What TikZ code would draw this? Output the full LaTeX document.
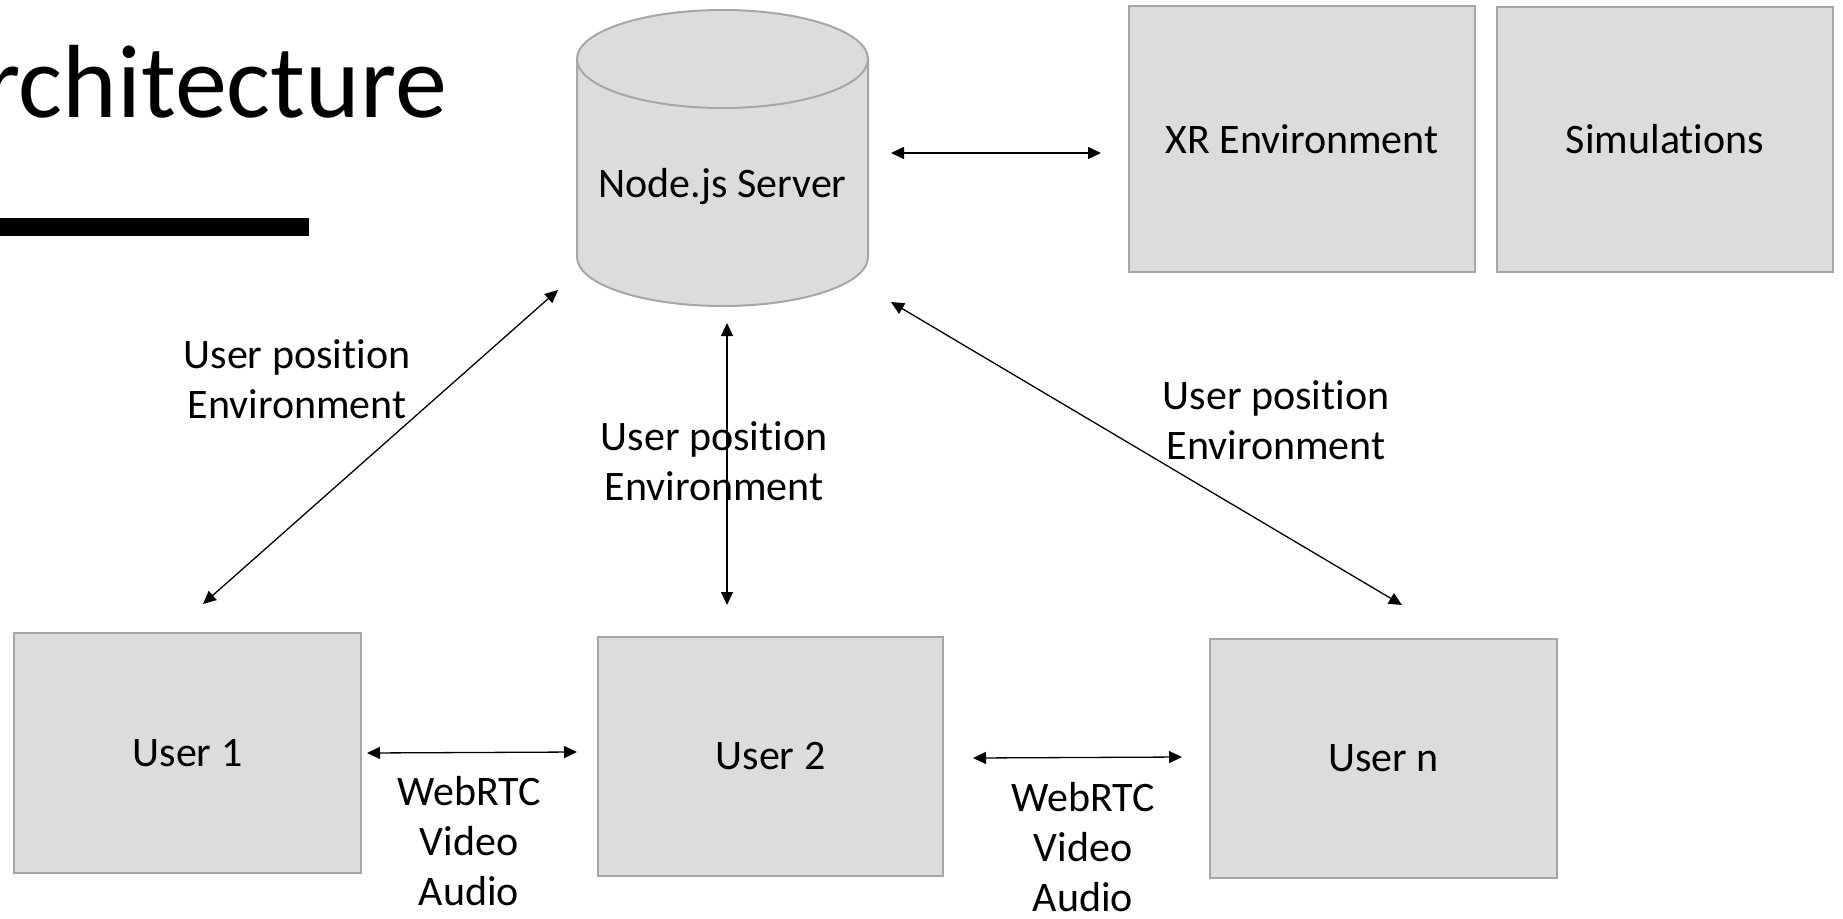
\documentclass[tikz,border=0pt]{standalone}
\usepackage{fontspec}
\setmainfont{Carlito}[Ligatures=NoCommon]
\usetikzlibrary{arrows.meta}
\definecolor{boxfill}{RGB}{220,220,220}
\definecolor{boxline}{RGB}{166,166,166}
\newcommand{\stk}[1]{\vtop{\halign{\hfil##\hfil\cr#1\crcr}}}
\begin{document}
\begin{tikzpicture}[x=1pt,y=1pt,
  body/.style={font=\fontsize{42}{50}\selectfont},
  box/.style={draw=boxline, fill=boxfill, line width=2pt, inner sep=0pt, body},
  arr/.style={<->, >={Triangle[length=13pt,width=12pt]}, line width=1.3pt},
  lab/.style={body, inner sep=0pt, anchor=base}]
\useasboundingbox (0,0) rectangle (1843,-918);
\clip (0,0) rectangle (1843,-918);
% title
\node[anchor=base east, inner sep=0pt, font=\fontsize{104}{124}\selectfont] (title) at (447,-117) {Architecture};
\fill[black] (0,-218) rectangle (309,-236);
% cylinder
\fill[boxfill] (577,-59) -- (577,-257) arc[start angle=180,end angle=360,x radius=145.5pt,y radius=49pt] -- (868,-59) arc[start angle=0,end angle=180,x radius=145.5pt,y radius=49pt] -- cycle;
\draw[boxline, line width=2pt] (577,-59) -- (577,-257) arc[start angle=180,end angle=360,x radius=145.5pt,y radius=49pt] -- (868,-59);
\draw[boxline, line width=2pt] (722.5,-59) ellipse [x radius=145.5pt, y radius=49pt];
\node[body, anchor=base, inner sep=0pt] (server) at (722.5,-197) {Node.js Server};
% boxes
\node[box, minimum width=346pt, minimum height=266pt] (xr) at (1302,-139) {XR Environment};
\node[box, minimum width=336pt, minimum height=265pt] (sim) at (1665,-139.5) {Simulations};
\node[box, minimum width=347pt, minimum height=240pt] (u1) at (187.5,-753) {User 1};
\node[box, minimum width=345pt, minimum height=239pt] (u2) at (770.5,-756.5) {User 2};
\node[box, minimum width=347pt, minimum height=239pt] (un) at (1383.5,-758.5) {User n};
% connector ends
\coordinate (sE) at (891,-153); \coordinate (xW) at (1101,-153);
\coordinate (sSW) at (558,-290); \coordinate (u1N) at (203,-604);
\coordinate (sS) at (727,-323); \coordinate (u2N) at (727,-605);
\coordinate (sSE) at (891,-302); \coordinate (unN) at (1402,-605);
\coordinate (u1E) at (367,-753); \coordinate (u2W) at (577,-752);
\coordinate (u2E) at (973,-758); \coordinate (unW) at (1182,-757);
\draw[arr] (sE) -- (xW);
\draw[arr] (sSW) -- (u1N);
\draw[arr] (sS) -- (u2N);
\draw[arr] (sSE) -- (unN);
\draw[arr] (u1E) -- (u2W);
\draw[arr] (u2E) -- (unW);
% labels
\node[lab] (l1) at (297,-368) {\stk{User position\cr Environment}};
\node[lab] (l2) at (714,-450) {\stk{User position\cr Environment}};
\node[lab] (l3) at (1276,-409) {\stk{User position\cr Environment}};
\node[lab] (w1) at (469,-805) {\stk{WebRTC\cr Video\cr Audio}};
\node[lab] (w2) at (1083,-811) {\stk{WebRTC\cr Video\cr Audio}};
\end{tikzpicture}
\end{document}
